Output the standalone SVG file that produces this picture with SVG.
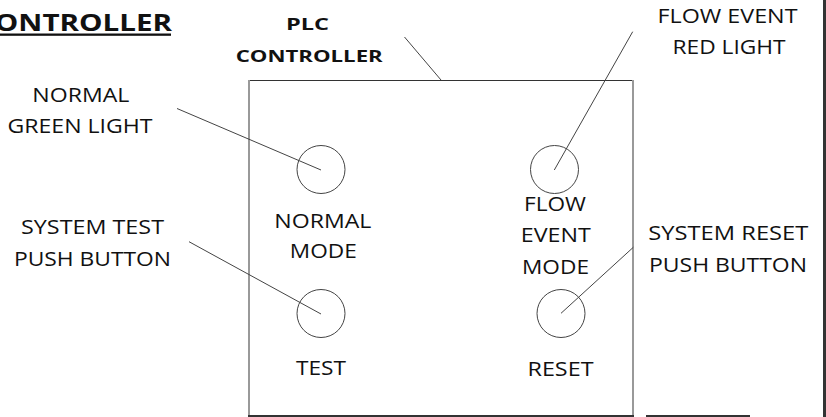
<svg xmlns="http://www.w3.org/2000/svg" width="826" height="417" viewBox="0 0 826 417">
<style>
.t{font-family:"Open Sans","Liberation Sans",Arial,sans-serif;font-size:20px;fill:#111;text-anchor:middle}
.b{font-family:"Open Sans","Liberation Sans",Arial,sans-serif;font-weight:bold;fill:#111}
.c{fill:none;stroke:#444;stroke-width:1}
.l{stroke:#444;stroke-width:1;fill:none}
</style>
<rect x="0" y="0" width="826" height="417" fill="#fff"/>
<g id="title">
<text class="b" x="-24" y="30.5" font-size="23.5" textLength="196" lengthAdjust="spacingAndGlyphs">CONTROLLER</text>
<rect x="-30" y="33.5" width="201" height="2.3" fill="#111"/>
</g>
<g id="frame">
<line x1="824.5" y1="0" x2="824.5" y2="417" stroke="#333" stroke-width="3"/>
<line x1="646" y1="416" x2="750" y2="416" stroke="#333" stroke-width="2"/>
</g>
<g id="plc-controller">
<line x1="248" y1="80.5" x2="634" y2="80.5" stroke="#333" stroke-width="1"/>
<line x1="249" y1="80" x2="249" y2="417" stroke="#999" stroke-width="2"/>
<line x1="633" y1="80" x2="633" y2="417" stroke="#999" stroke-width="2"/>
<line x1="248" y1="416" x2="634" y2="416" stroke="#333" stroke-width="2"/>
</g>
<g id="plc-label">
<text class="b" x="307.5" y="29.5" font-size="16.5" text-anchor="middle" textLength="43" lengthAdjust="spacingAndGlyphs">PLC</text>
<text class="b" x="309.2" y="61.7" font-size="16.5" text-anchor="middle" textLength="147" lengthAdjust="spacingAndGlyphs">CONTROLLER</text>
</g>
<g id="normal-green-light-label">
<text class="t" x="80.8" y="101.7" textLength="97" lengthAdjust="spacingAndGlyphs">NORMAL</text>
<text class="t" x="80" y="132.5" textLength="145" lengthAdjust="spacingAndGlyphs">GREEN LIGHT</text>
</g>
<g id="system-test-label">
<text class="t" x="92.5" y="234" textLength="143" lengthAdjust="spacingAndGlyphs">SYSTEM TEST</text>
<text class="t" x="92.5" y="266" textLength="157" lengthAdjust="spacingAndGlyphs">PUSH BUTTON</text>
</g>
<g id="flow-event-red-light-label">
<text class="t" x="727.5" y="23.3" textLength="140" lengthAdjust="spacingAndGlyphs">FLOW EVENT</text>
<text class="t" x="729" y="54.3" textLength="113" lengthAdjust="spacingAndGlyphs">RED LIGHT</text>
</g>
<g id="system-reset-label">
<text class="t" x="728.3" y="240" textLength="160" lengthAdjust="spacingAndGlyphs">SYSTEM RESET</text>
<text class="t" x="728" y="271.7" textLength="158" lengthAdjust="spacingAndGlyphs">PUSH BUTTON</text>
</g>
<g id="normal-mode-light">
<circle class="c" cx="321" cy="169.5" r="24"/>
<text class="t" x="322.8" y="227.5" textLength="97" lengthAdjust="spacingAndGlyphs">NORMAL</text>
<text class="t" x="323.3" y="257.5" textLength="67" lengthAdjust="spacingAndGlyphs">MODE</text>
</g>
<g id="test-button">
<circle class="c" cx="321" cy="313.5" r="24"/>
<text class="t" x="321" y="375" textLength="50" lengthAdjust="spacingAndGlyphs">TEST</text>
</g>
<g id="flow-event-mode-light">
<circle class="c" cx="554.5" cy="169.5" r="24"/>
<text class="t" x="555" y="210.7" textLength="62" lengthAdjust="spacingAndGlyphs">FLOW</text>
<text class="t" x="555.8" y="241.7" textLength="70" lengthAdjust="spacingAndGlyphs">EVENT</text>
<text class="t" x="555.5" y="274" textLength="67" lengthAdjust="spacingAndGlyphs">MODE</text>
</g>
<g id="reset-button">
<circle class="c" cx="561" cy="313.5" r="24"/>
<text class="t" x="560.5" y="375.5" textLength="66" lengthAdjust="spacingAndGlyphs">RESET</text>
</g>
<g id="connectors">
<line class="l" x1="404.5" y1="37" x2="441" y2="80"/>
<line class="l" x1="177" y1="108.5" x2="321" y2="170"/>
<line class="l" x1="632.7" y1="31.7" x2="554.3" y2="170"/>
<line class="l" x1="189" y1="241.7" x2="321" y2="314"/>
<line class="l" x1="633.3" y1="247.3" x2="561" y2="313.3"/>
</g>
</svg>
